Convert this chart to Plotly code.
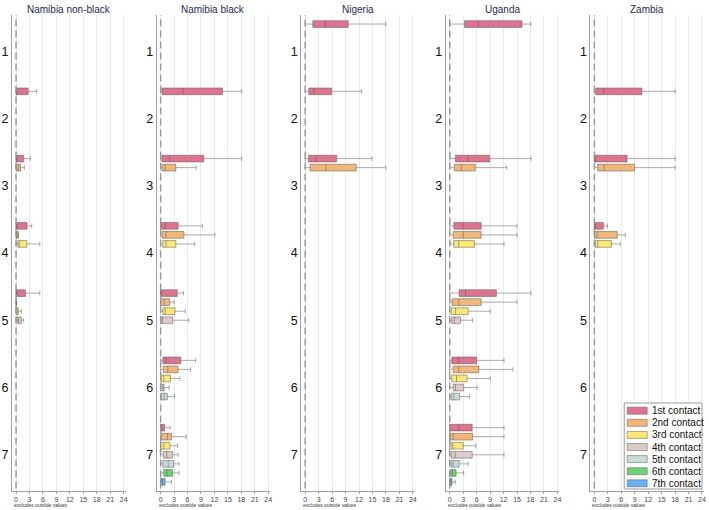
import plotly.graph_objects as go
from plotly.subplots import make_subplots

COUNTRIES = ["Namibia non-black", "Namibia black", "Nigeria", "Uganda", "Zambia"]
CONTACTS = ["1st contact", "2nd contact", "3rd contact", "4th contact",
            "5th contact", "6th contact", "7th contact"]
COLORS = ["#e0728f", "#f2b775", "#fde96e", "#ddcbc8", "#c8ddd6", "#6fd46f", "#6ab1ef"]
GROUP_LABELS = ["1", "2", "3", "4", "5", "6", "7"]
X_TICKS = [0, 3, 6, 9, 12, 15, 18, 21, 24]

# rows: (group, contact, lower whisker, q1, median, q3, upper whisker)
NAMIBIA_NONBLACK = [
    (2, 1, 0, 0.0, 0.2, 2.7, 4.6),
    (3, 1, 0, 0.0, 0.2, 1.7, 3.2),
    (3, 2, 0, 0.0, 0.5, 1.0, 1.85),
    (4, 1, 0, 0.0, 0.2, 2.45, 3.5),
    (4, 2, 0, 0.0, 0.2, 0.5, 0.5),
    (4, 3, 0, 0.4, 0.7, 2.4, 5.3),
    (5, 1, 0, 0.0, 0.2, 2.1, 5.3),
    (5, 2, 0, 0.0, 0.0, 0.1, 0.1),
    (5, 3, 0, 0.0, 0.2, 0.5, 1.2),
    (5, 4, 0, 0.3, 0.6, 1.2, 1.7),
]
NAMIBIA_BLACK = [
    (2, 1, 0, 0.3, 5.0, 13.8, 18.1),
    (3, 1, 0, 0.3, 2.0, 9.6, 18.1),
    (3, 2, 0, 0.3, 1.0, 3.4, 7.9),
    (4, 1, 0, 0.1, 1.0, 3.9, 9.3),
    (4, 2, 0, 0.3, 1.2, 5.2, 12.1),
    (4, 3, 0, 0.5, 1.2, 3.4, 7.6),
    (5, 1, 0, 0.0, 0.2, 3.7, 5.1),
    (5, 2, 0, 0.0, 0.8, 2.0, 3.0),
    (5, 3, 0, 0.5, 1.0, 3.2, 5.5),
    (5, 4, 0, 0.0, 0.4, 2.7, 6.3),
    (6, 1, 0, 0.5, 1.2, 4.5, 7.8),
    (6, 2, 0, 0.6, 1.6, 3.9, 6.7),
    (6, 3, 0, 0.1, 0.7, 2.2, 4.3),
    (6, 4, 0, 0.0, 0.5, 0.8, 1.9),
    (6, 5, 0, 0.2, 0.8, 1.5, 3.1),
    (7, 1, 0, 0.0, 0.3, 0.9, 2.1),
    (7, 2, 0, 0.15, 1.5, 2.4, 5.7),
    (7, 3, 0, 0.0, 0.7, 2.1, 3.8),
    (7, 4, 0, 0.6, 1.4, 2.7, 3.9),
    (7, 5, 0, 0.5, 1.7, 2.9, 4.1),
    (7, 6, 0, 0.7, 1.4, 2.7, 4.1),
    (7, 7, 0, 0.0, 0.4, 1.0, 2.4),
]
NIGERIA = [
    (1, 1, 0, 1.7, 4.5, 9.6, 18.0),
    (2, 1, 0, 0.8, 2.0, 5.9, 12.6),
    (3, 1, 0, 0.75, 2.4, 7.0, 14.9),
    (3, 2, 0, 1.1, 4.6, 11.4, 18.0),
]
UGANDA = [
    (1, 1, 0, 3.3, 6.4, 16.1, 18.1),
    (3, 1, 0, 1.25, 4.1, 8.9, 18.1),
    (3, 2, 0, 1.0, 2.6, 5.7, 12.7),
    (4, 1, 0, 0.9, 3.0, 7.0, 15.0),
    (4, 2, 0, 0.75, 3.0, 7.0, 15.0),
    (4, 3, 0, 0.9, 2.0, 5.5, 12.1),
    (5, 1, 0, 2.1, 3.5, 10.4, 18.1),
    (5, 2, 0, 0.5, 2.0, 7.0, 15.0),
    (5, 3, 0, 0.3, 1.3, 4.1, 9.0),
    (5, 4, 0, 0.45, 1.0, 2.4, 5.1),
    (6, 1, 0, 0.45, 2.0, 6.0, 12.1),
    (6, 2, 0, 0.75, 2.0, 6.5, 14.1),
    (6, 3, 0, 0.45, 1.5, 3.85, 9.0),
    (6, 4, 0, 0.75, 1.25, 3.1, 6.1),
    (6, 5, 0, 0.3, 0.9, 2.2, 4.4),
    (7, 1, 0, 0.0, 2.0, 5.0, 12.1),
    (7, 2, 0, 0.0, 0.75, 5.1, 12.1),
    (7, 3, 0, 0.3, 0.7, 3.0, 5.8),
    (7, 4, 0, 0.3, 1.2, 5.0, 12.1),
    (7, 5, 0, 0.3, 0.75, 2.1, 4.1),
    (7, 6, 0, 0.2, 0.6, 1.4, 3.1),
    (7, 7, 0, 0.0, 0.3, 0.5, 1.2),
]
ZAMBIA = [
    (2, 1, 0, 0.3, 2.1, 10.6, 18.0),
    (3, 1, 0, 0.0, 0.1, 7.3, 18.0),
    (3, 2, 0, 0.75, 2.2, 9.0, 18.0),
    (4, 1, 0, 0.0, 0.1, 2.0, 2.9),
    (4, 2, 0, 0.0, 0.6, 5.1, 6.9),
    (4, 3, 0, 0.2, 0.75, 3.8, 5.8),
]
PANELS = [NAMIBIA_NONBLACK, NAMIBIA_BLACK, NIGERIA, UGANDA, ZAMBIA]

# ---- layout constants ----
W, H = 709, 510
ML, MR, MT, MB = 12, 3, 15, 19
PW, PH = W - ML - MR, H - MT - MB
GROUP_STEP = 7.43  # group spacing in slot units


def slot_pos(g, k):
    return (g - 1) * GROUP_STEP + (k - 4)


def px_x(px):
    return (px - ML) / PW


def px_y(py):
    return (MT + PH - py) / PH


fig = make_subplots(rows=1, cols=5)
FONT = "Liberation Sans, Arial, sans-serif"

for p, rows in enumerate(PANELS):
    col = p + 1
    for k in range(1, 8):
        sel = [r for r in rows if r[1] == k]
        if not sel:
            continue
        fig.add_trace(
            go.Box(
                orientation="h",
                y=[slot_pos(r[0], r[1]) for r in sel],
                lowerfence=[r[2] for r in sel],
                q1=[r[3] for r in sel],
                median=[r[4] for r in sel],
                q3=[r[5] for r in sel],
                upperfence=[r[6] for r in sel],
                width=0.74,
                whiskerwidth=0.7,
                fillcolor=COLORS[k - 1],
                line=dict(color="rgba(90,90,90,0.5)", width=1),
                boxpoints=False,
                showlegend=False,
                hoverinfo="skip",
                name=CONTACTS[k - 1],
            ),
            row=1, col=col,
        )

layout_axes = {}
for p in range(5):
    n = "" if p == 0 else str(p + 1)
    left = 145 * p
    layout_axes["xaxis" + n] = dict(
        domain=[left / PW, min(1.0, (left + 114) / PW)],
        range=[-0.9, 24.45],
        tickvals=X_TICKS,
        ticktext=[str(v) for v in X_TICKS],
        tickfont=dict(size=7, color="#444", family=FONT),
        showgrid=True, gridcolor="#e4edf0", gridwidth=1,
        zeroline=False,
        showline=True, linecolor="#a0a0a0", linewidth=1,
        ticks="outside", ticklen=2, tickcolor="#a0a0a0",
    )
    layout_axes["yaxis" + n] = dict(
        range=[6 * GROUP_STEP + 4, -4],
        tickvals=[slot_pos(g, 4) for g in range(1, 8)],
        ticktext=GROUP_LABELS,
        tickfont=dict(size=12.5, color="#111", family=FONT),
        showgrid=False, zeroline=False,
        showline=True, linecolor="#a0a0a0", linewidth=1,
        ticks="", automargin=False,
    )

fig.update_layout(**layout_axes)

shapes = []
annotations = []
for p in range(5):
    n = "" if p == 0 else str(p + 1)
    left = 145 * p
    shapes.append(dict(
        type="line", xref="x" + n, yref="y" + n + " domain",
        x0=0, x1=0, y0=0.005, y1=1,
        line=dict(color="#999999", width=1.5, dash="7px,4px"),
        layer="above",
    ))
    annotations.append(dict(
        text=COUNTRIES[p], xref="paper", yref="paper",
        x=(left + 57) / PW, y=1, xanchor="center", yanchor="bottom",
        yshift=-2, showarrow=False,
        font=dict(size=10, color="#1c2b5a", family=FONT),
    ))
    annotations.append(dict(
        text="excludes outside values", xref="paper", yref="paper",
        x=left / PW, y=0, xanchor="left", yanchor="top", yshift=-9,
        showarrow=False, font=dict(size=5, color="#333", family=FONT),
    ))

# manual legend (bottom-right)
shapes.append(dict(
    type="rect", xref="paper", yref="paper",
    x0=px_x(626), x1=px_x(704), y0=px_y(489), y1=px_y(403),
    line=dict(color="#9a9a9a", width=1), fillcolor="white",
))
for i, name in enumerate(CONTACTS):
    cy = 410.7 + 12.1 * i
    shapes.append(dict(
        type="rect", xref="paper", yref="paper",
        x0=px_x(629), x1=px_x(649), y0=px_y(cy + 3.5), y1=px_y(cy - 3.5),
        line=dict(color="rgba(90,90,90,0.5)", width=1), fillcolor=COLORS[i],
    ))
    annotations.append(dict(
        text=name, xref="paper", yref="paper",
        x=px_x(651.5), y=px_y(cy), xanchor="left", yanchor="middle",
        showarrow=False, font=dict(size=10, color="#111", family=FONT),
    ))

fig.update_layout(
    width=W, height=H,
    margin=dict(l=ML, r=MR, t=MT, b=MB),
    paper_bgcolor="white", plot_bgcolor="white",
    showlegend=False,
    boxmode="overlay",
    shapes=shapes, annotations=annotations,
    font=dict(family=FONT),
)

fig.write_html(
    "out.html",
    config={"displayModeBar": False},
    post_script="document.body.style.margin='0';document.body.style.overflow='hidden';",
)
